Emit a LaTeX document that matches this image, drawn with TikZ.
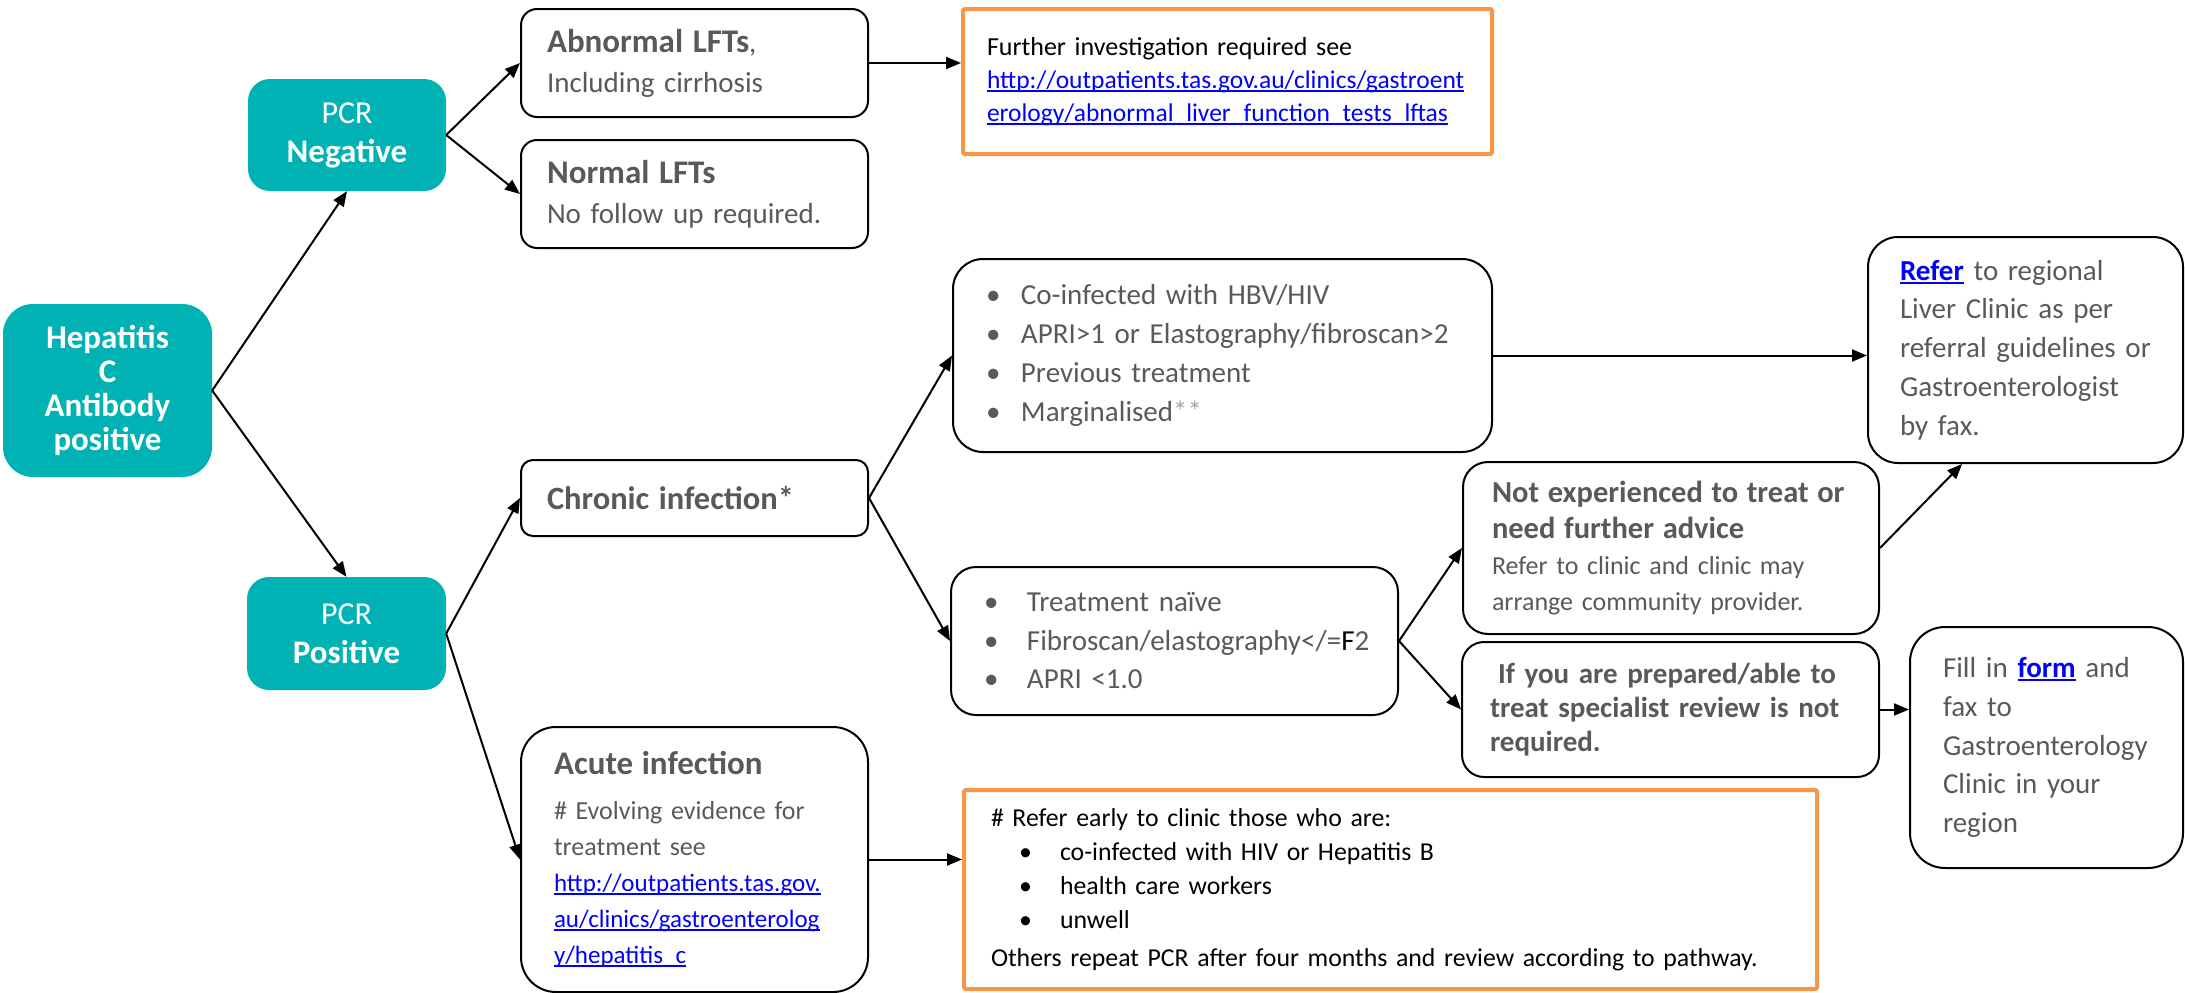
\documentclass[tikz,border=0pt]{standalone}
\usepackage{fontspec}
\setmainfont{Carlito}
\usetikzlibrary{arrows.meta,calc}
\definecolor{hcteal}{HTML}{00B2B4}
\definecolor{hcorange}{HTML}{F79646}
\definecolor{hcgrey}{HTML}{595959}
\definecolor{hclink}{HTML}{0000FF}
\newcommand\fs[2]{\fontsize{#1}{#2}\selectfont}
\newcommand\lnk[1]{\leavevmode\setbox0\hbox{#1}\rlap{\color{hclink}\rule[-3.5pt]{\wd0}{1.8pt}}\textcolor{hclink}{\box0}}
\newcommand\bul[1]{\makebox[#1][l]{\textbullet}}
\begin{document}
\begin{tikzpicture}[x=1pt,y=-1pt,
  tealbox/.style={fill=hcteal,text=white,align=center,inner sep=2pt},
  greybox/.style={draw,line width=2pt,text=hcgrey,align=left,inner ysep=2pt,font=\fs{29}{39}},
  orangebox/.style={draw=hcorange,line width=4pt,rounded corners=2pt,text=black,align=left,inner ysep=2pt},
  arr/.style={line width=2pt,-{Triangle[length=15pt,width=12pt]}}]
\useasboundingbox (0,0) rectangle (2185,993);
\node[tealbox,rounded corners=30pt,minimum width=209pt,minimum height=173pt,font=\fs{33}{34}\bfseries] (hep) at (107.5,390.5) {Hepatitis\\C\\Antibody\\positive};
\node[tealbox,rounded corners=22pt,minimum width=198pt,minimum height=112pt,font=\fs{32}{39}] (pcrneg) at (347,135) {PCR\\{\fs{33}{39}\bfseries Negative}};
\node[tealbox,rounded corners=22pt,minimum width=199pt,minimum height=113pt,font=\fs{32}{39}] (pcrpos) at (346.5,633.5) {PCR\\{\fs{33}{39}\bfseries Positive}};
\node[greybox,rounded corners=16pt,text width=295pt,inner xsep=26pt,minimum height=108pt,font=\fs{29}{40}] (abn) at (694.5,63) {{\fs{33}{40}\bfseries Abnormal LFTs},\\Including cirrhosis};
\node[greybox,rounded corners=16pt,text width=295pt,inner xsep=26pt,minimum height=108pt,font=\fs{29}{40}] (nor) at (694.5,194) {{\fs{33}{40}\bfseries Normal LFTs}\\No follow up required.};
\node[orangebox,text width=481pt,inner xsep=24pt,minimum height=145pt,font=\fs{26}{33}] (furth) at (1227.5,81.5) {\mbox{Further investigation required see}\\{\fs{25.5}{33}\lnk{http://outpatients.tas.gov.au/clinics/gastroent}}\\{\fs{25.5}{33}\lnk{erology/abnormal\_liver\_function\_tests\_lftas}}};
\node[greybox,rounded corners=12pt,text width=295pt,inner xsep=26pt,minimum height=76pt] (chron) at (694.5,498) {{\fs{32.5}{39}\bfseries Chronic infection*}};
\node[greybox,rounded corners=35pt,text width=281pt,inner xsep=33pt,minimum height=265pt,font=\fs{26}{36}] (acute) at (694.5,859.5) {{\fs{33}{36}\bfseries Acute infection}\\[9pt]\# Evolving evidence for\\treatment see\\{\fs{25}{36}\lnk{http://outpatients.tas.gov.}}\\{\fs{25}{36}\lnk{au/clinics/gastroenterolog}}\\{\fs{25}{36}\lnk{y/hepatitis\_c}}};
\node[orangebox,text width=799pt,inner xsep=27pt,minimum height=199pt,font=\fs{25.8}{34}] (early) at (1390.5,889.5) {\# Refer early to clinic those who are:\\\hspace*{28pt}\bul{41pt}co-infected with HIV or Hepatitis B\\\hspace*{28pt}\bul{41pt}health care workers\\\hspace*{28pt}\bul{41pt}unwell\\[4pt]\mbox{Others repeat PCR after four months and review according to pathway.}};
\node[greybox,rounded corners=30pt,text width=473pt,inner xsep=33pt,minimum height=193pt] (coinf) at (1222.5,355.5) {\bul{35pt}Co-infected with HBV/HIV\\\bul{35pt}APRI>1 or Elastography/fibroscan>2\\\bul{35pt}Previous treatment\\\bul{35pt}Marginalised{\color{gray!70}**}};
\node[greybox,rounded corners=25pt,text width=381pt,inner xsep=33pt,minimum height=148pt,font=\fs{29}{38.5}] (naive) at (1174.5,641) {\bul{43pt}Treatment naïve\\\bul{43pt}Fibroscan/elastography</={\color{black}F}2\\\bul{43pt}APRI <1.0};
\node[greybox,rounded corners=25pt,text width=358pt,inner xsep=29pt,minimum height=172pt,font=\fs{26}{36}] (notexp) at (1671,548) {{\fs{30.5}{36}\bfseries Not experienced to treat or}\\{\fs{30.5}{36}\bfseries need further advice}\\Refer to clinic and clinic may\\arrange community provider.};
\node[greybox,rounded corners=22pt,text width=361pt,inner xsep=28pt,minimum height=135pt,font=\fs{29}{34}\bfseries] (ifprep) at (1670.5,709.5) {\hspace*{8pt}If you are prepared/able to\\\mbox{treat specialist review is not}\\required.};
\node[greybox,rounded corners=30pt,text width=251pt,inner xsep=32pt,minimum height=226pt,font=\fs{29}{38.8}] (refer) at (2025.5,350) {\lnk{\bfseries Refer} to regional\\Liver Clinic as per\\referral guidelines or\\Gastroenterologist\\by fax.};
\node[greybox,rounded corners=35pt,text width=207pt,inner xsep=33pt,minimum height=241pt,font=\fs{29}{38.8}] (fill) at (2046.5,747.5) {Fill in \lnk{\bfseries form} and\\fax to\\Gastroenterology\\Clinic in your\\region};
\draw[arr] (hep.east) -- (pcrneg.south);
\draw[arr] (hep.east) -- (pcrpos.north);
\draw[arr] (pcrneg.east) -- (abn.west);
\draw[arr] (pcrneg.east) -- (nor.west);
\draw[arr] (abn.east) -- (abn.east -| furth.west);
\draw[arr] (pcrpos.east) -- (chron.west);
\draw[arr] (pcrpos.east) -- (acute.west);
\draw[arr] (acute.east) -- (acute.east -| early.west);
\draw[arr] (chron.east) -- (coinf.west);
\draw[arr] (chron.east) -- (naive.west);
\draw[arr] (coinf.east) -- (coinf.east -| refer.west);
\draw[arr] (naive.east) -- (notexp.west);
\draw[arr] (naive.east) -- (ifprep.west);
\draw[arr] (notexp.east) -- ($(refer.south west)!0.3!(refer.south east)$);
\draw[arr] (ifprep.east) -- (ifprep.east -| fill.west);
\end{tikzpicture}
\end{document}
